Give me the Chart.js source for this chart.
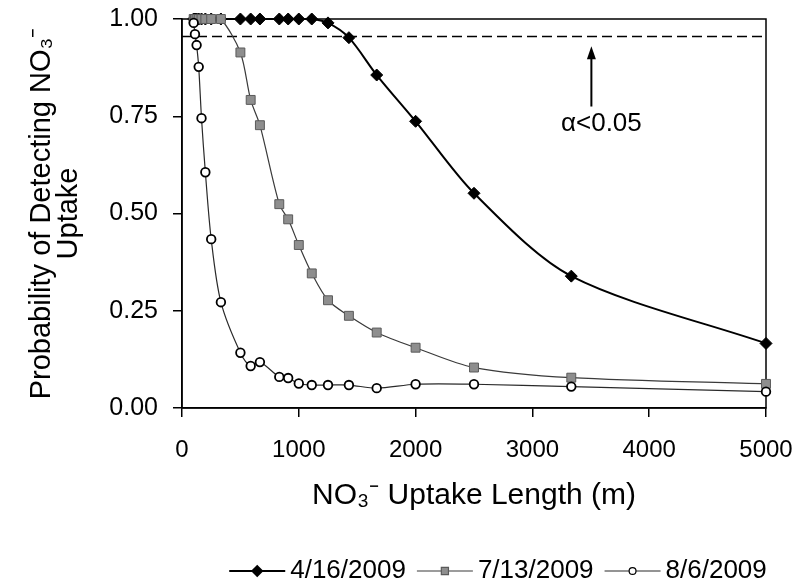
<!DOCTYPE html>
<html>
<head>
<meta charset="utf-8">
<script src="https://cdn.jsdelivr.net/npm/chart.js@4.4.1/dist/chart.umd.min.js"></script>
<style>
  html, body { margin: 0; padding: 0; background: #fff; }
  canvas { display: block; }
</style>
</head>
<body>
<canvas id="myChart" width="799" height="586"></canvas>
<script>
// uptake lengths (m) shared by all three dates
const lengths = [100, 111, 125, 143, 167, 200, 250, 333, 500, 588, 667, 833, 909, 1000, 1111, 1250, 1429, 1667, 2000, 2500, 3333, 5000];

// probability of detecting uptake for each date
const april16 = [1, 1, 1, 1, 1, 1, 1, 1, 1, 1, 1, 1, 1, 1, 1, 0.99, 0.952, 0.856, 0.737, 0.552, 0.339, 0.166];
const july13 = [1, 1, 1, 1, 1, 1, 1, 1, 0.914, 0.792, 0.727, 0.524, 0.485, 0.419, 0.346, 0.277, 0.237, 0.194, 0.155, 0.104, 0.078, 0.062];
const aug6 = [0.99, 0.961, 0.933, 0.877, 0.745, 0.606, 0.434, 0.272, 0.142, 0.108, 0.118, 0.080, 0.077, 0.063, 0.059, 0.059, 0.059, 0.051, 0.061, 0.061, 0.055, 0.042];

const seriesLabels = ['4/16/2009', '7/13/2009', '8/6/2009'];

// alpha < 0.05 threshold and the annotation arrow
const threshold = [0.955];
const arrowX = [3505];
const arrowY = [0.93, 0.775];
const noteText = ['α<0.05'];

const xTicks = [0, 5000, 1000];
const yTicks = [0, 1, 0.25];

const FONT = '"Liberation Sans", Arial, sans-serif';
Chart.defaults.font.family = FONT;
Chart.defaults.color = '#000';

function points(ys) {
  const out = [];
  for (let i = 0; i < lengths.length; i++) {
    out.push({ x: lengths[i], y: ys[i] });
  }
  return out;
}

// labels hanging past the ends should not shrink the plot
function noOverflow(scale) {
  scale.paddingTop = 0;
  scale.paddingBottom = 0;
  scale.paddingLeft = 0;
  scale.paddingRight = 0;
}

// box, dashed threshold line, arrow and the legend
const extras = {
  id: 'extras',
  beforeDatasetsDraw(chart) {
    const ctx = chart.ctx;
    const a = chart.chartArea;
    const xs = chart.scales.x, ys = chart.scales.y;
    ctx.save();
    ctx.strokeStyle = '#000';
    ctx.lineWidth = 1.5;
    ctx.strokeRect(a.left, a.top, a.right - a.left, a.bottom - a.top);

    const ty = ys.getPixelForValue(threshold[0]);
    ctx.setLineDash([10, 5]);
    ctx.beginPath();
    ctx.moveTo(a.left, ty);
    ctx.lineTo(a.right, ty);
    ctx.stroke();
    ctx.setLineDash([]);

    const ax = xs.getPixelForValue(arrowX[0]);
    const top = ys.getPixelForValue(arrowY[0]);
    const bot = ys.getPixelForValue(arrowY[1]);
    ctx.lineWidth = 2;
    ctx.beginPath();
    ctx.moveTo(ax, bot);
    ctx.lineTo(ax, top + 8);
    ctx.stroke();
    ctx.fillStyle = '#000';
    ctx.beginPath();
    ctx.moveTo(ax, top);
    ctx.lineTo(ax - 4.5, top + 13);
    ctx.lineTo(ax + 4.5, top + 13);
    ctx.closePath();
    ctx.fill();

    ctx.font = '26px ' + FONT;
    ctx.textAlign = 'center';
    ctx.textBaseline = 'middle';
    ctx.fillText(noteText[0], ax + 10, bot + 17);
    ctx.restore();
  },
  afterDraw(chart) {
    const ctx = chart.ctx;
    const sets = chart.data.datasets;
    const lineLen = 56, gap = 5, itemGap = 11;
    ctx.save();
    ctx.font = '26px ' + FONT;
    ctx.textBaseline = 'middle';
    ctx.textAlign = 'left';
    let total = 0;
    sets.forEach((d, i) => {
      total += lineLen + gap + ctx.measureText(d.label).width;
      if (i < sets.length - 1) total += itemGap;
    });
    let x = 498 - total / 2;
    const y = 571;
    sets.forEach((d) => {
      ctx.strokeStyle = d.borderColor;
      ctx.lineWidth = d.borderWidth;
      ctx.beginPath();
      ctx.moveTo(x, y);
      ctx.lineTo(x + lineLen, y);
      ctx.stroke();
      ctx.fillStyle = d.pointBackgroundColor;
      ctx.strokeStyle = d.pointBorderColor;
      Chart.helpers.drawPoint(ctx, {
        pointStyle: d.pointStyle,
        radius: d.pointRadius * 0.8,
        rotation: 0,
        borderWidth: d.pointBorderWidth
      }, x + lineLen / 2, y);
      x += lineLen + gap;
      ctx.fillStyle = '#000';
      ctx.fillText(d.label, x, y);
      x += ctx.measureText(d.label).width + itemGap;
    });
    ctx.restore();
  }
};

const ctx = document.getElementById('myChart').getContext('2d');

const myChart = new Chart(ctx, {
  type: 'line',
  data: {
    datasets: [
      {
        label: seriesLabels[0],
        data: points(april16),
        borderColor: '#000',
        borderWidth: 2,
        pointStyle: 'rectRot',
        pointRadius: 6,
        pointBackgroundColor: '#000',
        pointBorderColor: '#000',
        pointBorderWidth: 1,
        tension: 0.3,
        order: 3,
        clip: false
      },
      {
        label: seriesLabels[1],
        data: points(july13),
        borderColor: '#3a3a3a',
        borderWidth: 1.2,
        pointStyle: 'rect',
        pointRadius: 6.3,
        pointBackgroundColor: '#8e8e8e',
        pointBorderColor: '#5a5a5a',
        pointBorderWidth: 1,
        tension: 0.3,
        order: 2,
        clip: false
      },
      {
        label: seriesLabels[2],
        data: points(aug6),
        borderColor: '#2a2a2a',
        borderWidth: 1.2,
        pointStyle: 'circle',
        pointRadius: 4.3,
        pointBackgroundColor: '#fff',
        pointBorderColor: '#000',
        pointBorderWidth: 1.8,
        tension: 0.3,
        order: 1,
        clip: false
      }
    ]
  },
  options: {
    responsive: false,
    animation: false,
    layout: { padding: { top: 19, right: 33, bottom: 0, left: 0 } },
    plugins: {
      legend: { display: false },
      tooltip: { enabled: false }
    },
    scales: {
      x: {
        type: 'linear',
        min: xTicks[0],
        max: xTicks[1],
        ticks: {
          stepSize: xTicks[2],
          padding: 19,
          font: { size: 24 },
          color: '#000',
          callback: (v) => String(v)
        },
        grid: { display: true, drawOnChartArea: false, drawTicks: true, tickLength: 9, color: '#000', lineWidth: 1.5 },
        border: { display: true, color: '#000', width: 1.5 },
        title: {
          display: true,
          text: 'NO₃⁻ Uptake Length (m)',
          font: { size: 30, lineHeight: 1.2 },
          color: '#000',
          padding: { top: 0, bottom: 72 }
        },
        afterFit(scale) { scale.height = 178; noOverflow(scale); }
      },
      y: {
        min: yTicks[0],
        max: yTicks[1],
        ticks: {
          stepSize: yTicks[2],
          padding: 15,
          font: { size: 25 },
          color: '#000',
          callback: (v) => v.toFixed(2)
        },
        grid: { display: true, drawOnChartArea: false, drawTicks: true, tickLength: 9, color: '#000', lineWidth: 1.5 },
        border: { display: true, color: '#000', width: 1.5 },
        title: {
          display: true,
          text: ['Probability of Detecting NO₃⁻', 'Uptake'],
          font: { size: 29, lineHeight: 0.95 },
          color: '#000',
          padding: { top: 28, bottom: 0 }
        },
        afterFit(scale) { scale.width = 182; noOverflow(scale); }
      }
    }
  },
  plugins: [extras]
});
</script>
</body>
</html>
